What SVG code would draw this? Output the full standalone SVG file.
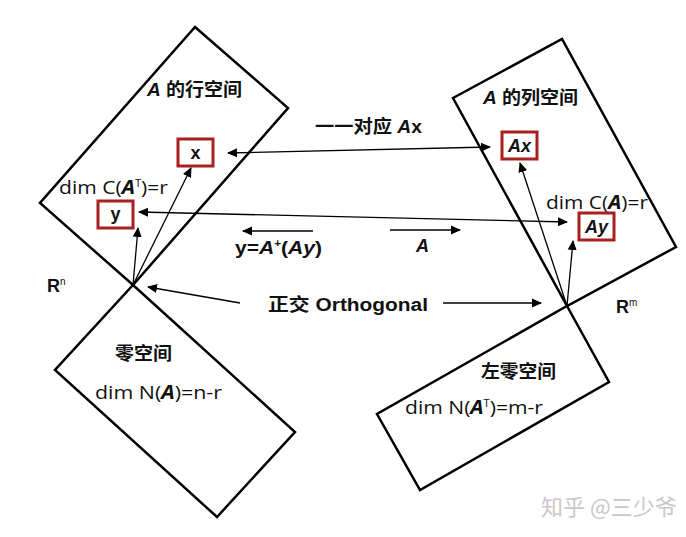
<svg xmlns="http://www.w3.org/2000/svg" width="686" height="537" viewBox="0 0 686 537">
<defs>
<marker id="ah" viewBox="0 0 10 10" refX="9" refY="5" markerWidth="10" markerHeight="10" markerUnits="userSpaceOnUse" orient="auto-start-reverse">
<path d="M0,0.5 L10,5 L0,9.5 z" fill="#000"/>
</marker>
<style>
.sp{fill:#fff;stroke:#000;stroke-width:2.5;stroke-linejoin:miter}
.bx{fill:none;stroke:#a8201f;stroke-width:3}
.ln{stroke:#000;stroke-width:1.3;fill:none}
.one{marker-end:url(#ah)}
.two{marker-start:url(#ah);marker-end:url(#ah)}
.t{font-family:"Open Sans","Liberation Sans","Noto Sans CJK SC",sans-serif;font-size:19px;fill:#111}
.b{font-family:"Liberation Sans","Noto Sans CJK SC",sans-serif;font-size:18px;font-weight:bold;fill:#111}
.bi{font-style:italic;font-weight:bold}
.wm{font-family:"Noto Sans CJK SC",sans-serif;font-size:22px;fill:#c8c8c8}
</style>
</defs>
<g id="row-space">
<polygon class="sp" points="195,27 288,108 133,285 40,203"/>
<text class="b" x="147" y="96" font-size="19" textLength="95" lengthAdjust="spacingAndGlyphs"><tspan class="bi">A</tspan> 的行空间</text>
<text class="t" x="59" y="194" textLength="109" lengthAdjust="spacingAndGlyphs">dim C(<tspan class="bi">A</tspan><tspan font-size="10" dy="-7">T</tspan><tspan dy="7">)=r</tspan></text>
</g>
<g id="null-space">
<polygon class="sp" points="133,285 295,432 217,517 55,370"/>
<text class="b" x="115" y="360" font-size="19" textLength="57" lengthAdjust="spacingAndGlyphs">零空间</text>
<text class="t" x="95" y="399" textLength="127" lengthAdjust="spacingAndGlyphs">dim N(<tspan class="bi">A</tspan>)=n-r</text>
</g>
<g id="column-space">
<polygon class="sp" points="453,98 562,39 676,247 567,306"/>
<text class="b" x="483" y="104" font-size="19" textLength="95" lengthAdjust="spacingAndGlyphs"><tspan class="bi">A</tspan> 的列空间</text>
<text class="t" x="546" y="209" textLength="102" lengthAdjust="spacingAndGlyphs">dim C(<tspan class="bi">A</tspan>)=r</text>
</g>
<g id="left-null-space">
<polygon class="sp" points="567,306 609,382 420,490 377,414"/>
<text class="b" x="481" y="378" font-size="19" textLength="75" lengthAdjust="spacingAndGlyphs">左零空间</text>
<text class="t" x="405" y="414" textLength="138" lengthAdjust="spacingAndGlyphs">dim N(<tspan class="bi">A</tspan><tspan font-size="10" dy="-7">T</tspan><tspan dy="7">)=m-r</tspan></text>
</g>
<g id="node-x">
<rect class="bx" x="178" y="139" width="35" height="27"/>
<text class="b" x="195.5" y="159" text-anchor="middle" font-size="19">x</text>
</g>
<g id="node-y">
<rect class="bx" x="98" y="201" width="35" height="27"/>
<text class="b" x="115.5" y="220" text-anchor="middle" font-size="19">y</text>
</g>
<g id="node-Ax">
<rect class="bx" x="502" y="132" width="35" height="27"/>
<text class="b bi" x="519.5" y="152" text-anchor="middle" font-size="19">Ax</text>
</g>
<g id="node-Ay">
<rect class="bx" x="579" y="213" width="35" height="27"/>
<text class="b bi" x="596.5" y="233" text-anchor="middle" font-size="19">Ay</text>
</g>
<g id="connectors">
<line class="ln two" x1="228" y1="153" x2="490" y2="147"/>
<line class="ln two" x1="139" y1="212" x2="567" y2="222"/>
<line class="ln one" x1="313" y1="231" x2="243" y2="231"/>
<line class="ln one" x1="390" y1="230" x2="460" y2="230"/>
<line class="ln one" x1="240" y1="303" x2="148" y2="287"/>
<line class="ln one" x1="443" y1="303" x2="541" y2="303"/>
<line class="ln one" x1="133" y1="285" x2="191" y2="168"/>
<line class="ln one" x1="133" y1="285" x2="138" y2="228"/>
<line class="ln one" x1="567" y1="306" x2="520" y2="163"/>
<line class="ln one" x1="567" y1="306" x2="573" y2="241"/>
</g>
<g id="labels">
<text class="b" x="315" y="133" textLength="107" lengthAdjust="spacingAndGlyphs">一一对应 <tspan class="bi">A</tspan>x</text>
<text class="b" x="235" y="254" textLength="87" lengthAdjust="spacingAndGlyphs">y=<tspan class="bi">A</tspan><tspan font-size="10" dy="-7">+</tspan><tspan dy="7">(</tspan><tspan class="bi">Ay</tspan>)</text>
<text class="b bi" x="416" y="252" font-size="19">A</text>
<text class="b" x="47" y="292" font-size="19">R<tspan font-size="10" font-weight="normal" dy="-7">n</tspan></text>
<text class="b" x="616" y="313" font-size="19">R<tspan font-size="10" font-weight="normal" dy="-7">m</tspan></text>
<text class="b" x="268" y="311" textLength="160" lengthAdjust="spacingAndGlyphs">正交  Orthogonal</text>
<text class="wm" x="541" y="515">知乎 @三少爷</text>
</g>
</svg>
